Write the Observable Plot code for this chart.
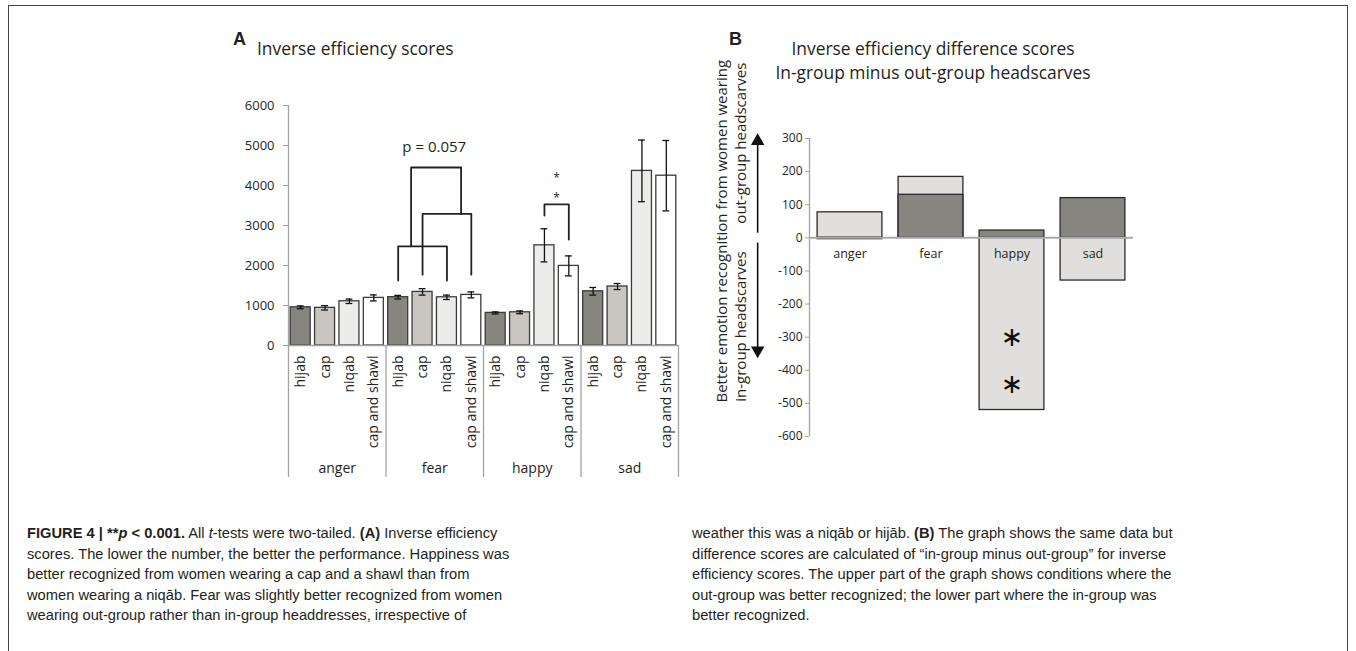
<!DOCTYPE html>
<html><head><meta charset="utf-8">
<script src="https://cdn.jsdelivr.net/npm/d3@7"></script>
<script src="https://cdn.jsdelivr.net/npm/@observablehq/plot@0.6"></script>
<style>
body{margin:0;background:#fff;}
#root{position:relative;width:1356px;height:651px;overflow:hidden;font-family:"Open Sans",sans-serif;color:#231f20;}
.abs{position:absolute;white-space:nowrap;}
#frame{position:absolute;left:8px;top:5px;width:1340px;height:700px;border:1.5px solid #444;box-sizing:border-box;}
.cap{position:absolute;font-family:"Liberation Sans",Arial,sans-serif;font-size:14.7px;line-height:20.6px;color:#231f20;white-space:nowrap;}
.cap b{font-weight:bold;}
svg{overflow:visible;}
</style></head><body><div id="root"><div id="frame"></div></div>
<script>
const emotions = ["anger","fear","happy","sad"];
const headscarves = ["hijab","cap","niqab","cap and shawl"];
const angerScores = [955, 942, 1105, 1190];
const fearScores = [1208, 1340, 1205, 1265];
const happyScores = [815, 830, 2505, 1990];
const sadScores = [1355, 1475, 4365, 4245];
const angerErrors = [35, 55, 55, 75];
const fearErrors = [45, 80, 55, 75];
const happyErrors = [25, 35, 415, 250];
const sadErrors = [95, 75, 770, 880];
const yTicksA = [0, 1000, 2000, 3000, 4000, 5000, 6000];
const scarfColors = ["#878580", "#c9c6c2", "#ececea", "#ffffff"];
// significance brackets (bar index, score)
const bracketX = [[4,4,6,6],[5,5,7,7],[4.53,4.53,6.58,6.58],[10,10,11,11]];
const bracketY = [[1625,2480,2480,1625],[1770,3290,3290,1770],[2480,4450,4450,3290],[3250,3530,3530,2650]];
const annotA = [{x:5.48, y:4960, t:"p = 0.057", s:15}, {x:10.5, y:4180, t:"*", s:12}, {x:10.5, y:3690, t:"*", s:12}];

const diffDark = [-4, 130, 22, 120];
const diffLight = [77, 184, -520, -129];
const yTicksB = [300, 200, 100, 0, -100, -200, -300, -400, -500, -600];
const starsB = [-300, -442];

const ink = "#231f20";
const font = "'Open Sans', sans-serif";
const root = document.getElementById("root");

// ---------- Panel A ----------
const scoreTable = [angerScores, fearScores, happyScores, sadScores];
const errTable = [angerErrors, fearErrors, happyErrors, sadErrors];
const rowsA = [];
emotions.forEach((e, g) => headscarves.forEach((h, k) => rowsA.push({
  emotion: e, scarf: h, k, i: g * 4 + k, value: scoreTable[g][k], err: errTable[g][k]
})));
const bracketPts = [];
bracketX.forEach((xs, b) => xs.forEach((x, j) => bracketPts.push({b, x, y: bracketY[b][j]})));
const seps = emotions.map((e, g) => g * 4 - 0.5).concat([emotions.length * 4 - 0.5]);

const A = Plot.plot({
  width: 500, height: 400, marginLeft: 88, marginRight: 22, marginTop: 15, marginBottom: 145,
  style: {fontFamily: font, fontSize: "13px", color: ink, background: "transparent", overflow: "visible"},
  x: {domain: [-0.5, 15.5], axis: null},
  y: {domain: [0, 6000], axis: null},
  marks: [
    Plot.ruleX(seps, {x: d => d, y1: 0, y2: -3300, stroke: "#a3a3a3", strokeWidth: 1.3}),
    Plot.ruleX([-0.5], {stroke: "#a3a3a3", strokeWidth: 1.3}),
    Plot.rectY(rowsA, {x1: d => d.i - 0.41, x2: d => d.i + 0.41, y1: 0, y2: "value",
      fill: d => scarfColors[d.k], stroke: "#3a3a3a", strokeWidth: 1.3}),
    Plot.ruleY([0], {stroke: "#a3a3a3", strokeWidth: 1.5}),
    Plot.ruleX(rowsA, {x: "i", y1: d => d.value - d.err, y2: d => d.value + d.err, stroke: "#111", strokeWidth: 1.3}),
    Plot.ruleY(rowsA, {y: d => d.value + d.err, x1: d => d.i - 0.14, x2: d => d.i + 0.14, stroke: "#111", strokeWidth: 1.3}),
    Plot.ruleY(rowsA, {y: d => d.value - d.err, x1: d => d.i - 0.14, x2: d => d.i + 0.14, stroke: "#111", strokeWidth: 1.3}),
    Plot.line(bracketPts, {x: "x", y: "y", z: "b", stroke: "#222", strokeWidth: 1.8, curve: "linear"}),
    Plot.text(annotA, {x: "x", y: "y", text: "t", fontSize: d => d.s, fill: ink}),
    Plot.text(rowsA, {x: "i", y: 0, text: "scarf", rotate: -90, textAnchor: "end", dy: 10, fontSize: 14, fill: ink}),
    Plot.text(emotions, {x: (d, g) => g * 4 + 1.5, y: 0, dy: 123, text: d => d, fontSize: 14, fill: ink}),
    Plot.axisY({ticks: yTicksA, tickFormat: d => String(d), tickSize: 5, tickPadding: 9, stroke: "#a3a3a3", fill: ink, fontSize: 13, label: null})
  ]
});
A.style.position = "absolute"; A.style.left = "200px"; A.style.top = "90px";
root.appendChild(A);

// ---------- Panel B ----------
const rowsB = emotions.map((e, i) => ({emotion: e, i, dark: diffDark[i], light: diffLight[i]}));
const labelMid = [{x: -1.58, y: 20, t: "Better emotion recognition from women wearing"}];
const labelTop = [{x: -1.34, y: 529, t: "out-group headscarves"}];
const labelBottom = [{x: -1.34, y: -495, t: "in-group headscarves"}];
const arrowsB = [{y1: 14, y2: 292}, {y1: -16, y2: -340}];
const B = Plot.plot({
  width: 460, height: 350, marginLeft: 119, marginRight: 17, marginTop: 38, marginBottom: 14,
  style: {fontFamily: font, fontSize: "12px", color: ink, background: "transparent", overflow: "visible"},
  x: {domain: [-0.5, 3.5], axis: null},
  y: {domain: [-600, 300], axis: null},
  marks: [
    Plot.ruleX([-0.5], {stroke: "#a3a3a3", strokeWidth: 1.3}),
    Plot.rectY(rowsB, {x1: d => d.i - 0.4, x2: d => d.i + 0.4, y1: 0, y2: "light", fill: "#e0dfdd", stroke: "#2a2a2a", strokeWidth: 1.3}),
    Plot.rectY(rowsB, {x1: d => d.i - 0.4, x2: d => d.i + 0.4, y1: 0, y2: "dark", fill: "#878580", stroke: "#2a2a2a", strokeWidth: 1.3}),
    Plot.ruleY([0], {stroke: "#a8a8a8", strokeWidth: 2}),
    Plot.text(rowsB, {x: "i", y: 0, dy: 16, text: "emotion", fontSize: 12.5, fill: ink}),
    Plot.text(starsB, {x: emotions.indexOf("happy"), y: d => d, text: () => "∗", fontSize: 27, fontFamily: "DejaVu Sans", fill: "#111"}),
    Plot.axisY({ticks: yTicksB, tickFormat: d => String(d), tickSize: 4, tickPadding: 3, stroke: "#a3a3a3", fill: ink, fontSize: 12, label: null}),
    Plot.text(labelMid, {x: "x", y: "y", text: "t", rotate: -90, textAnchor: "middle", fontSize: 15, fill: ink}),
    Plot.text(labelTop, {x: "x", y: "y", text: "t", rotate: -90, textAnchor: "end", fontSize: 15, fill: ink}),
    Plot.text(labelBottom, {x: "x", y: "y", text: "t", rotate: -90, textAnchor: "start", fontSize: 15, fill: ink}),
    Plot.ruleX(arrowsB, {x: -1.14, y1: "y1", y2: "y2", stroke: "#111", strokeWidth: 1.6}),
    Plot.dot(arrowsB, {x: -1.14, y: "y2", symbol: "triangle", r: 5, fill: "#111", rotate: d => d.y2 > 0 ? 0 : 180})
  ]
});
B.style.position = "absolute"; B.style.left = "690px"; B.style.top = "100px";
root.appendChild(B);

// ---------- titles ----------
function addText(html, css) {
  const d = document.createElement("div");
  d.className = "abs"; d.innerHTML = html; Object.assign(d.style, css); root.appendChild(d);
}
addText("A", {left: "233px", top: "29px", fontSize: "18px", fontWeight: "bold", fontFamily: "'Liberation Sans', Arial, sans-serif"});
addText("Inverse efficiency scores", {left: "257px", top: "36px", fontSize: "17.4px"});
addText("B", {left: "729px", top: "29px", fontSize: "18px", fontWeight: "bold", fontFamily: "'Liberation Sans', Arial, sans-serif"});
addText("Inverse efficiency difference scores<br>In-group minus out-group headscarves", {left: "933px", top: "36px", fontSize: "17.4px", lineHeight: "24px", textAlign: "center", transform: "translateX(-50%)"});

// ---------- caption ----------
const capLeft = [
  "<b>FIGURE 4 | **<i>p</i> &lt; 0.001.</b> All <i>t</i>-tests were two-tailed. <b>(A)</b> Inverse efficiency",
  "scores. The lower the number, the better the performance. Happiness was",
  "better recognized from women wearing a cap and a shawl than from",
  "women wearing a niqāb. Fear was slightly better recognized from women",
  "wearing out-group rather than in-group headdresses, irrespective of"
];
const capRight = [
  "weather this was a niqāb or hijāb. <b>(B)</b> The graph shows the same data but",
  "difference scores are calculated of “in-group minus out-group” for inverse",
  "efficiency scores. The upper part of the graph shows conditions where the",
  "out-group was better recognized; the lower part where the in-group was",
  "better recognized."
];
const cl = document.createElement("div"); cl.className = "cap"; cl.style.left = "27px"; cl.style.top = "523px";
cl.innerHTML = capLeft.join("<br>"); root.appendChild(cl);
const cr = document.createElement("div"); cr.className = "cap"; cr.style.left = "692px"; cr.style.top = "523px";
cr.innerHTML = capRight.join("<br>"); root.appendChild(cr);
</script>
</body></html>
